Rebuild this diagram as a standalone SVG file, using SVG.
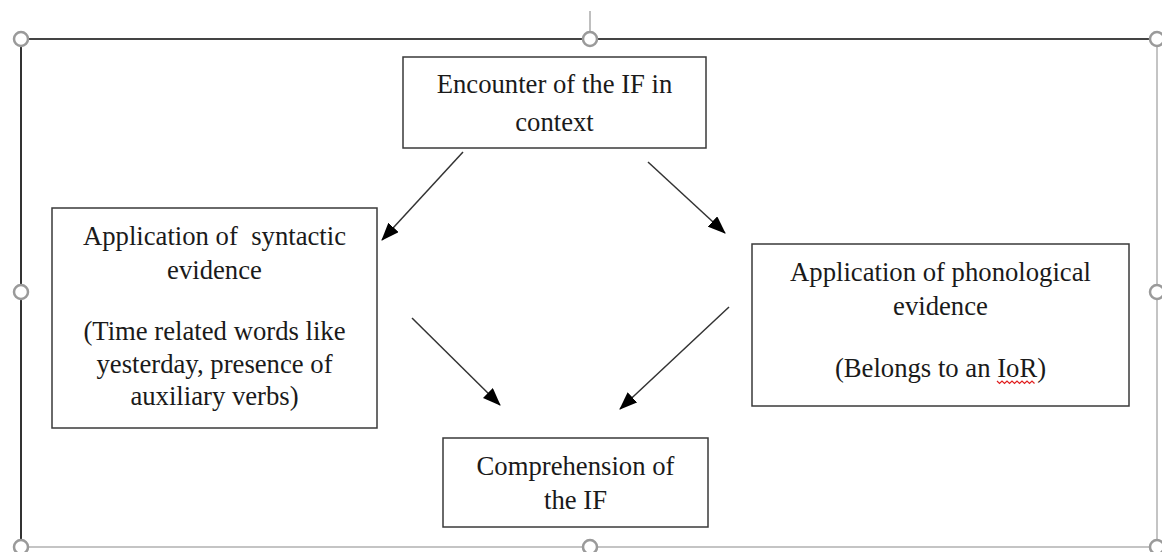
<svg xmlns="http://www.w3.org/2000/svg" width="1162" height="552" viewBox="0 0 1162 552">
<style>
.box{fill:#fff;stroke:#3a3a3a;stroke-width:1.5}
.t{font-family:"Liberation Serif","Times New Roman",serif;font-size:26.7px;fill:#1a1a1a;text-anchor:middle}
.conn{stroke:#333;stroke-width:1.5;fill:none;marker-end:url(#ah)}
.handle{fill:#fff;stroke:#9a9a9a;stroke-width:2.5}
</style>
<defs>
<marker id="ah" markerUnits="userSpaceOnUse" markerWidth="18" markerHeight="14" viewBox="0 0 18 14" refX="17" refY="7" orient="auto">
<path d="M0,0 L18,7 L0,14 Z" fill="#000"/>
</marker>
</defs>
<rect width="1162" height="552" fill="#fff"/>
<g id="frame">
<line x1="590" y1="11" x2="590" y2="33" stroke="#aaa" stroke-width="1.5"/>
<line x1="1157" y1="39" x2="1157" y2="547" stroke="#b0b0b0" stroke-width="1.5"/>
<line x1="21" y1="547" x2="1157" y2="547" stroke="#b0b0b0" stroke-width="1.5"/>
<line x1="21" y1="39" x2="1157" y2="39" stroke="#444" stroke-width="2"/>
<line x1="21" y1="39" x2="21" y2="547" stroke="#333" stroke-width="2"/>
</g>
<g id="n1">
<rect class="box" x="403" y="57" width="303" height="91"/>
<text class="t" x="554.5" y="93">Encounter of the IF in</text>
<text class="t" x="554.5" y="131">context</text>
</g>
<g id="n2">
<rect class="box" x="52" y="208" width="325" height="220"/>
<text class="t" x="214.5" y="245" xml:space="preserve">Application of  syntactic</text>
<text class="t" x="214.5" y="279">evidence</text>
<text class="t" x="214.5" y="340">(Time related words like</text>
<text class="t" x="214.5" y="373">yesterday, presence of</text>
<text class="t" x="214.5" y="405">auxiliary verbs)</text>
</g>
<g id="n3">
<rect class="box" x="752" y="244" width="377" height="162"/>
<text class="t" x="940.5" y="281">Application of phonological</text>
<text class="t" x="940.5" y="315">evidence</text>
<text class="t" x="940.5" y="377">(Belongs to an IoR)</text>
<path d="M997,381 l2.5,2.5 l2.5,-2.5 l2.5,2.5 l2.5,-2.5 l2.5,2.5 l2.5,-2.5 l2.5,2.5 l2.5,-2.5 l2.5,2.5 l2.5,-2.5 l2.5,2.5 l2.5,-2.5 l2.5,2.5 l2.5,-2.5 l2.5,2.5" fill="none" stroke="#e02020" stroke-width="1.2"/>
</g>
<g id="n4">
<rect class="box" x="443" y="438" width="265" height="89"/>
<text class="t" x="575.5" y="475">Comprehension of</text>
<text class="t" x="575.5" y="509">the IF</text>
</g>
<g id="connectors">
<line class="conn" x1="463" y1="152" x2="382" y2="240"/>
<line class="conn" x1="648" y1="162" x2="725" y2="233"/>
<line class="conn" x1="412" y1="318" x2="500" y2="405"/>
<line class="conn" x1="729" y1="307" x2="620" y2="409"/>
</g>
<g id="handles">
<circle class="handle" cx="21" cy="39" r="7"/>
<circle class="handle" cx="590" cy="39" r="7"/>
<circle class="handle" cx="1157" cy="39" r="7"/>
<circle class="handle" cx="21" cy="292" r="7"/>
<circle class="handle" cx="1157" cy="292" r="7"/>
<circle class="handle" cx="21" cy="547" r="7"/>
<circle class="handle" cx="590" cy="547" r="7"/>
<circle class="handle" cx="1157" cy="547" r="7"/>
</g>
</svg>
